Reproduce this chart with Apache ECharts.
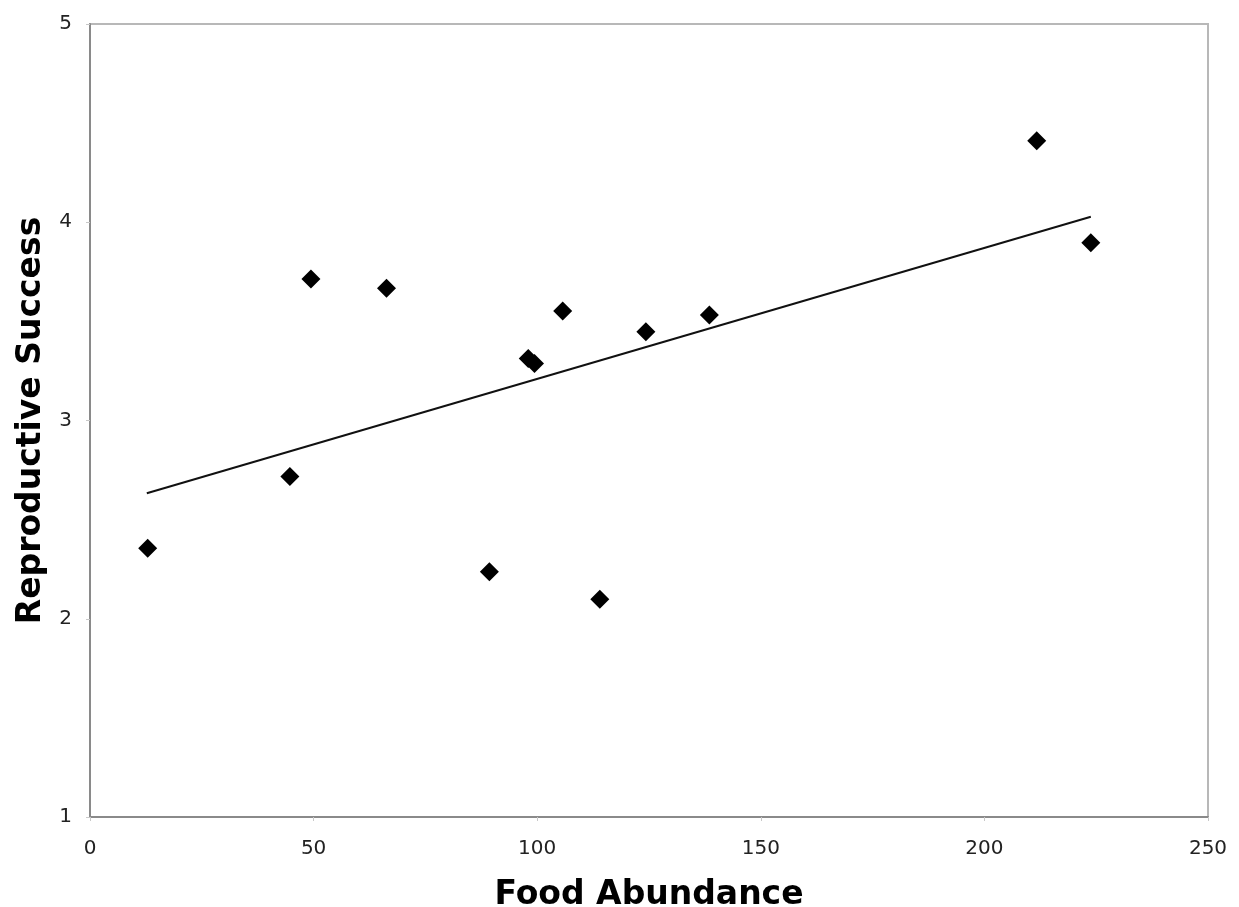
<!DOCTYPE html>
<html>
<head>
<meta charset="utf-8">
<script src="https://cdn.jsdelivr.net/npm/echarts@6/dist/echarts.min.js"></script>
<style>
  html, body { margin: 0; padding: 0; background: #fff; }
  #chart { width: 1239px; height: 907px; }
</style>
</head>
<body>
<div id="chart"></div>
<script>
// values
var foodData = [12.9, 44.7, 49.4, 66.3, 89.3, 98.0, 99.4, 105.7, 114.0, 124.3, 138.5, 211.7, 223.8];
var successData = [2.355, 2.717, 3.714, 3.667, 2.237, 3.313, 3.287, 3.552, 2.098, 3.448, 3.532, 4.411, 3.897];
// trend line end points
var trendX = [12.7, 223.8];
var trendY = [2.633, 4.028];

var points = foodData.map(function (x, i) { return [x, successData[i]]; });
var trend = trendX.map(function (x, i) { return [x, trendY[i]]; });

var chart = echarts.init(document.getElementById('chart'), null, { renderer: 'canvas' });

var labelStyle = {
    fontFamily: 'DejaVu Sans',
    fontSize: 20,
    color: '#222'
};

var option = {
    animation: false,
    backgroundColor: '#fff',
    grid: {
        left: 90,
        top: 24,
        right: 31,
        bottom: 90,
        outerBoundsMode: 'none',
        containLabel: false,
        show: true,
        borderColor: '#b8b8b8',
        borderWidth: 2,
        backgroundColor: '#fff'
    },
    xAxis: {
        type: 'value',
        min: 0,
        max: 250,
        interval: 50,
        name: 'Food Abundance',
        nameLocation: 'middle',
        nameGap: 62,
        nameTextStyle: {
            fontFamily: 'DejaVu Sans',
            fontWeight: 'bold',
            fontSize: 33,
            color: '#000'
        },
        axisLine: { show: true, lineStyle: { color: '#8a8a8a', width: 2 } },
        axisTick: { show: true, length: 4, lineStyle: { color: '#c8c8c8' } },
        axisLabel: Object.assign({ margin: 22 }, labelStyle),
        splitLine: { show: false }
    },
    yAxis: {
        type: 'value',
        min: 1,
        max: 5,
        interval: 1,
        name: 'Reproductive Success',
        nameLocation: 'middle',
        nameGap: 40,
        nameTextStyle: {
            fontFamily: 'DejaVu Sans',
            fontWeight: 'bold',
            fontSize: 33,
            color: '#000'
        },
        axisLine: { show: true, lineStyle: { color: '#8a8a8a', width: 2 } },
        axisTick: { show: true, length: 4, lineStyle: { color: '#c8c8c8' } },
        axisLabel: Object.assign({ margin: 18 }, labelStyle),
        splitLine: { show: false }
    },
    series: [
        {
            type: 'line',
            data: trend,
            symbol: 'none',
            lineStyle: { color: '#111', width: 2 },
            z: 2
        },
        {
            type: 'scatter',
            data: points,
            symbol: 'diamond',
            symbolSize: 19,
            itemStyle: { color: '#000', opacity: 1 },
            z: 3
        }
    ]
};

chart.setOption(option);
</script>
</body>
</html>
